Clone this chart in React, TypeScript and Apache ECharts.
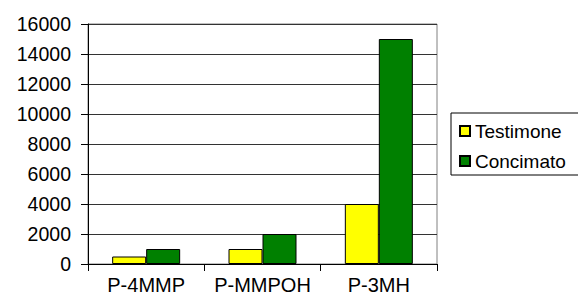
import React, { useEffect, useRef } from "react";
import * as echarts from "echarts";

const categories = ["P-4MMP", "P-MMPOH", "P-3MH"];
const testimone = [500, 1000, 4000];
const concimato = [1000, 2000, 15000];

export default function App() {
  const ref = useRef<HTMLDivElement>(null);
  useEffect(() => {
    if (!ref.current) return;
    const chart = echarts.init(ref.current, null, { renderer: "svg" });
    const font = "'Liberation Sans', Arial, sans-serif";
    chart.setOption({
      animation: false,
      backgroundColor: "#ffffff",
      textStyle: { fontFamily: font },
      grid: {
        left: 88,
        right: 141,
        top: 24,
        bottom: 36,
        show: true,
        borderColor: "#808080",
        borderWidth: 1,
      },
      legend: {
        orient: "vertical",
        left: 451,
        top: 113,
        padding: [8, 14, 4, 8],
        itemWidth: 10,
        itemHeight: 10,
        itemGap: 10,
        borderColor: "#000",
        borderWidth: 1,
        backgroundColor: "#fff",
        icon: "rect",
        textStyle: { fontSize: 19, lineHeight: 20, color: "#000", fontFamily: font },
        data: ["Testimone", "Concimato"],
      },
      xAxis: {
        type: "category",
        data: categories,
        axisLine: { show: true, lineStyle: { color: "#000", width: 1 } },
        axisTick: { show: true, length: 7, alignWithLabel: false, interval: 0, lineStyle: { color: "#000" } },
        axisLabel: { fontSize: 20, color: "#000", margin: 11, interval: 0, hideOverlap: false, fontFamily: font },
      },
      yAxis: {
        type: "value",
        min: 0,
        max: 16000,
        interval: 2000,
        axisLine: { show: true, lineStyle: { color: "#000", width: 1 } },
        axisTick: { show: true, length: 7, lineStyle: { color: "#000" } },
        axisLabel: {
          fontSize: 19.5,
          color: "#000",
          margin: 17,
          fontFamily: font,
          formatter: (v: number) => String(v),
        },
        splitLine: { show: true, lineStyle: { color: "#333", width: 1 } },
      },
      series: [
        {
          name: "Testimone",
          type: "bar",
          data: testimone,
          barWidth: 34,
          barGap: "0%",
          itemStyle: { color: "#FFFF00", borderColor: "#000", borderWidth: 1 },
        },
        {
          name: "Concimato",
          type: "bar",
          data: concimato,
          barWidth: 34,
          barGap: "0%",
          itemStyle: { color: "#008000", borderColor: "#000", borderWidth: 1 },
        },
      ],
    });
    return () => chart.dispose();
  }, []);
  return <div ref={ref} style={{ width: 578, height: 300, position: "absolute", left: 0, top: 0 }} />;
}
